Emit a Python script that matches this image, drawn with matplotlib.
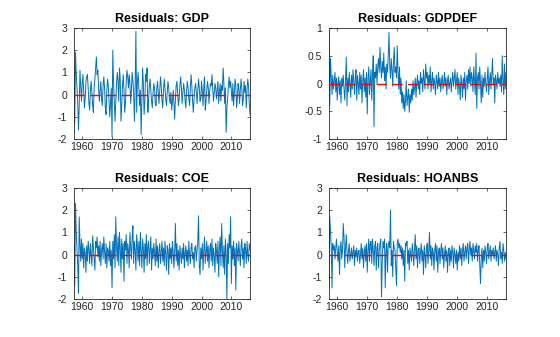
import numpy as np
import matplotlib
matplotlib.use("Agg")
import matplotlib.pyplot as plt

plt.rcParams['font.family'] = ['Liberation Sans', 'DejaVu Sans']
plt.rcParams['axes.unicode_minus'] = False
plt.rcParams['lines.scale_dashes'] = False

start_year = 1957.25  # first quarter in sample

gdp = [
    1.2, -1.3, 1.9, 0.9, 0.3, -0.4, -1.6, -0.5, 1.1, 0.4,
    -0.3, 0.5, 0.9, 0.2, -0.6, -0.2, 0.6, 0.8, 0.9, 0.3,
    -0.4, -0.7, 0.2, 0.6, 0.1, -0.5, -0.8, 0.3, 0.7, 1.2,
    1.7, 0.9, 1.1, 0.3, -0.3, 0.2, 0.6, -0.2, -0.5, 0.4,
    0.8, 0.3, -0.6, -0.9, 0.2, 0.7, 0.4, -0.3, -1.0, -0.4,
    0.3, -1.9, 2.0, 0.6, -0.3, -1.2, -0.4, 0.5, 1.0, 0.6,
    -0.3, 1.2, 0.7, -1.2, -0.5, 0.4, 0.9, 0.2, -0.8, -0.4,
    0.6, 1.1, 0.8, 0.3, 0.9, 0.5, -0.4, 0.2, 1.0, 0.6,
    0.1, -1.2, 0.4, 2.85, -0.8, 0.6, 1.0, 0.3, -0.5, 0.2,
    -1.8, -0.4, 1.2, 0.5, -0.9, -0.3, 0.9, 0.6, 1.2, -0.8,
    -0.3, 0.4, 0.7, 0.2, -0.3, -0.6, 0.1, 0.5, 0.3, -0.4,
    -0.5, 0.3, 0.6, 0.1, -0.4, 0.2, 0.8, 0.4, -0.3, -0.6,
    0.2, 0.7, 0.3, -0.2, -0.5, 0.1, 0.6, 0.3, -0.2, -0.4,
    0.1, -0.7, -0.3, 0.2, -0.4, -1.1, -0.2, 0.4, 0.6, 0.1,
    -0.5, -0.2, 0.4, 0.8, 0.3, -0.4, 0.1, 0.5, 0.2, -0.3,
    -0.6, 0.2, 0.6, 0.3, -0.2, -0.5, 0.3, 0.9, 0.4, -0.3,
    -0.8, -0.2, 0.3, 0.5, 0.1, -0.4, 0.2, 0.7, 0.3, -0.3,
    -0.2, 0.6, 0.2, -0.5, 0.3, 0.8, -0.7, -0.3, 0.2, 0.6,
    0.3, -0.4, 0.2, 0.5, 0.4, 0.9, 0.3, -0.3, 0.1, 0.5,
    0.3, -0.2, 0.2, 0.6, -0.4, 0.1, 0.5, -0.3, 0.4, 0.2,
    1.2, 0.5, -0.4, 0.3, -1.7, -0.6, -0.2, 0.4, 0.8, 0.3,
    0.6, 0.2, -0.3, 0.5, -0.5, 0.1, 0.7, 0.4, -0.6, -0.2,
    0.5, 0.3, -0.4, 0.2, 0.7, 0.3, -0.5, -0.2, 0.6, 0.1,
    0.4, -0.6, 0.2, 0.7, 0.4, -0.4, -0.9,
]

gdpdef = [
    0.95, -0.4, 0.45, 0.1, -0.2, 0.15, -0.1, 0.05, 0.2, -0.15,
    0.1, -0.3, 0.0, 0.12, -0.2, 0.05, -0.35, 0.1, -0.05, 0.15,
    -0.1, -0.3, 0.05, 0.48, -0.4, 0.1, -0.15, 0.2, 0.0, -0.25,
    0.15, -0.1, 0.25, 0.05, -0.2, 0.1, 0.25, -0.3, 0.15, 0.0,
    -0.2, 0.2, -0.1, 0.15, -0.35, 0.05, 0.25, -0.15, 0.1, -0.25,
    0.2, -0.55, 0.1, 0.3, -0.2, 0.05, 0.25, -0.3, 0.15, 0.5,
    -0.78, 0.2, 0.1, 0.35, 0.0, 0.3, 0.45, 0.2, 0.65, 0.3,
    0.1, 0.4, 0.2, 0.55, 0.05, 0.3, -0.1, 0.35, 0.2, 0.5,
    0.92, 0.3, 0.1, 0.45, 0.25, -0.05, 0.4, 0.65, 0.2, 0.3,
    0.1, 0.68, 0.2, -0.1, 0.3, -0.2, 0.1, -0.35, -0.15, -0.45,
    -0.2, -0.5, -0.3, 0.05, -0.4, -0.25, -0.1, -0.52, -0.2, -0.35,
    -0.1, -0.3, 0.05, -0.2, -0.1, 0.1, -0.25, 0.0, 0.15, -0.1,
    0.05, -0.2, 0.2, 0.0, 0.1, -0.15, 0.25, 0.05, -0.1, 0.35,
    0.1, 0.2, -0.1, 0.15, 0.0, 0.3, -0.15, 0.05, 0.2, -0.1,
    0.1, 0.0, -0.2, 0.15, 0.05, -0.1, 0.2, -0.05, 0.1, -0.15,
    0.05, 0.15, -0.1, 0.0, 0.2, -0.05, 0.1, -0.2, 0.05, 0.15,
    -0.1, 0.0, 0.1, -0.15, 0.05, 0.2, -0.05, 0.1, 0.25, -0.1,
    0.05, 0.2, -0.2, 0.1, -0.05, -0.3, 0.15, 0.0, -0.25, 0.1,
    -0.1, 0.2, -0.3, 0.05, 0.15, -0.1, 0.25, 0.0, 0.3, -0.05,
    0.2, 0.1, -0.15, 0.3, 0.05, -0.2, 0.55, -0.45, 0.1, 0.2,
    -0.1, 0.3, 0.0, -0.35, 0.15, -0.25, 0.1, -0.05, 0.2, 0.0,
    -0.15, 0.1, 0.3, -0.2, 0.05, 0.2, -0.1, 0.15, 0.45, 0.0,
    0.1, -0.35, 0.15, 0.05, -0.1, 0.2, 0.0, 0.1, -0.05, 0.15,
    -0.15, 0.5, 0.05, -0.2, 0.35, -0.1, 0.2,
]

coe = [
    0.4, -1.4, 2.3, 1.0, 0.2, -0.5, -1.75, 1.7, 0.5, -0.3,
    0.7, -0.2, 0.5, -0.6, 0.3, 0.1, -0.8, 0.4, -0.3, 0.6,
    0.2, -0.4, 0.5, 0.0, -0.5, 0.85, 0.3, -0.2, -0.7, 0.6,
    0.3, 0.8, -0.1, 0.4, -0.3, 0.6, -0.5, 0.2, 0.5, -0.2,
    0.8, 0.1, -0.4, 0.5, -0.6, 0.3, 0.2, -0.3, 0.6, -0.5,
    0.2, -1.5, 0.6, -0.2, 0.9, -0.6, 1.7, 0.4, -0.3, 0.8,
    -0.5, 1.0, 0.3, -0.8, 0.7, -0.2, 0.5, -1.2, 0.6, 0.2,
    0.9, -0.4, 0.5, 0.2, -0.6, 1.0, 0.3, -0.2, 0.8, 1.3,
    -0.4, 0.6, 0.2, -0.7, 0.9, 0.4, -0.3, 0.6, -0.5, 1.0,
    0.2, -0.6, 0.7, 0.3, -0.8, 0.5, -0.2, 0.9, -0.5, 0.4,
    0.6, -0.4, 0.2, 0.8, -0.7, 0.3, -0.2, 0.5, 0.1, -0.5,
    0.7, -0.3, 0.4, -0.6, 0.2, 0.5, -0.4, 0.1, 0.6, -0.3,
    0.3, -0.5, 0.6, 0.0, -0.7, 0.4, 0.2, -0.9, 0.5, -0.2,
    0.3, -0.4, 0.6, 0.1, -0.6, 0.2, 1.4, -0.3, 0.5, -0.5,
    0.2, -0.7, 0.4, 0.0, -0.4, 0.3, -0.2, 0.5, -0.6, 0.1,
    0.4, -0.3, 0.2, -0.5, 0.6, 0.0, -0.4, 0.3, 0.5, -0.2,
    0.1, -0.6, 0.3, 0.4, -0.3, 0.2, 0.6, 1.75, -0.5, -0.9,
    0.3, -0.2, 0.5, -0.7, 0.2, 0.8, -0.4, 0.1, 0.6, -0.3,
    0.4, -0.6, 0.2, 0.5, -0.3, 0.7, -0.5, 0.3, 0.0, -0.8,
    0.5, 0.2, -0.4, 0.6, -1.0, 0.3, 0.8, -0.5, 1.4, 0.2,
    -0.6, 0.4, -0.9, 0.7, 0.1, -2.0, 0.5, -0.4, 0.9, 0.3,
    1.7, -1.3, 0.4, -0.2, 0.6, -0.5, 0.3, -1.6, 0.5, 0.2,
    -0.3, 0.6, 0.1, -0.5, 0.4, 0.7, -0.2, 0.3, -0.6, 0.5,
    0.2, -0.4, 0.6, 0.0, -0.3, 0.5, 0.2,
]

hoanbs = [
    -1.5, 1.75, 1.0, 0.3, -1.5, 0.5, 0.2, 0.4, -0.2, 0.3,
    0.7, 0.1, -0.3, 0.4, -0.9, 0.3, 0.6, -0.2, 0.2, 1.4,
    0.8, -0.6, 0.3, 0.9, 0.1, -0.4, 0.2, 0.5, -0.3, 0.0,
    0.3, -0.2, 0.1, 0.4, -0.5, 0.2, -0.1, 0.3, -0.3, 0.1,
    0.2, -0.4, 0.0, 0.5, -0.2, 0.3, -0.6, 0.1, 0.4, -0.3,
    0.5, -0.8, 0.2, 0.7, -0.3, 0.5, 0.6, -0.4, 0.7, 0.2,
    -0.5, 0.4, 0.6, -0.7, 0.3, 0.5, -0.6, 0.2, 0.5, 0.7,
    -1.9, -0.4, 0.6, 0.3, 0.7, -1.5, 0.2, 0.5, -0.8, 0.4,
    0.6, 0.3, 2.0, -0.5, 0.2, -1.0, 0.6, 0.3, 0.2, -0.6,
    -1.4, 0.5, 0.7, 0.3, 0.5, 0.1, 0.4, -0.2, 0.3, -0.5,
    0.2, -1.2, 0.5, 0.4, 0.6, -0.4, 0.2, -0.7, 0.3, 0.0,
    -0.3, 0.5, 0.1, -0.5, 0.3, 0.9, -0.2, 0.4, -0.6, 0.2,
    0.3, -0.4, 0.1, 0.5, -0.3, 0.2, -0.9, 0.4, 0.0, -0.6,
    0.3, 0.5, -0.4, 0.2, 1.0, -0.2, 0.4, -0.5, 0.3, 0.1,
    -0.7, 0.2, 0.5, -0.3, 0.4, -0.8, 0.1, 0.3, -0.4, 0.2,
    0.5, -0.2, 0.3, -0.6, 0.0, 0.4, -0.3, 0.2, -0.8, 0.1,
    0.3, -0.5, 0.2, -0.3, 0.4, 0.1, -0.6, 0.3, 0.0, -0.4,
    0.2, -0.7, 0.1, -0.3, 0.4, -0.2, 0.3, -0.5, 0.2, 0.5,
    -0.3, 0.1, 0.4, -0.2, 0.3, 0.5, -0.4, 0.2, 0.6, 0.0,
    0.3, -0.3, 0.5, 0.2, -0.2, 0.4, 0.1, 0.5, -0.3, 0.2,
    0.4, -0.5, -1.3, -0.2, 0.3, -0.6, 0.2, -0.3, 0.4, 0.1,
    -0.4, 0.3, 0.5, -0.2, 0.1, 0.4, -0.3, 0.2, 0.0, 0.3,
    -0.2, 0.1, 0.4, -0.3, 0.2, 0.0, -0.5, 0.3, 0.6, -0.2,
    0.1, -0.4, 0.5, 0.2, -0.3, 0.1, -0.2,
]

titles = ['Residuals: GDP', 'Residuals: GDPDEF', 'Residuals: COE', 'Residuals: HOANBS']
series = [gdp, gdpdef, coe, hoanbs]
ylims = [(-2, 3), (-1, 1), (-2, 3), (-2, 3)]
yticks = [[-2, -1, 0, 1, 2, 3], [-1, -0.5, 0, 0.5, 1], [-2, -1, 0, 1, 2, 3], [-2, -1, 0, 1, 2, 3]]
ytick_labels = [['-2', '-1', '0', '1', '2', '3'], ['-1', '-0.5', '0', '0.5', '1'],
                ['-2', '-1', '0', '1', '2', '3'], ['-2', '-1', '0', '1', '2', '3']]
xticks = [1960, 1970, 1980, 1990, 2000, 2010]

W, H = 560, 337
fig = plt.figure(figsize=(W / 100, H / 100), dpi=100)
fig.patch.set_facecolor('white')

boxes = [(74, 28, 250, 139), (329, 28, 506, 139), (74, 188, 250, 299), (329, 188, 506, 299)]

axcol = (0.15, 0.15, 0.15)
for k in range(4):
    x0, y0, x1, y1 = boxes[k]
    ax = fig.add_axes([x0 / W, 1 - y1 / H, (x1 - x0) / W, (y1 - y0) / H])
    vals = np.array(series[k])
    t = start_year + 0.25 * np.arange(len(vals))
    ax.plot(t, vals, color=(0, 0.447, 0.741), lw=0.7, zorder=2)
    ax.plot([t[0], t[-1]], [0, 0], color=(1, 0, 0), lw=1.0, dashes=(7.5, 3.8), zorder=3)
    ax.set_xlim(t[0], t[-1])
    ax.set_ylim(*ylims[k])
    ax.set_yticks(yticks[k])
    ax.set_yticklabels(ytick_labels[k])
    ax.set_xticks(xticks)
    ax.set_xticklabels([str(x) for x in xticks])
    ax.tick_params(direction='in', length=2.5, width=0.5, colors=axcol, labelsize=7.5,
                   top=True, right=True)
    ax.tick_params(axis='y', pad=5)
    ax.tick_params(axis='x', pad=2.5)
    for s in ax.spines.values():
        s.set_linewidth(0.6)
        s.set_color(axcol)
    ax.set_title(titles[k], fontsize=9, fontweight='bold', color=(0.0, 0.0, 0.0), pad=4)

fig.savefig('out.png', dpi=100, facecolor='white')
